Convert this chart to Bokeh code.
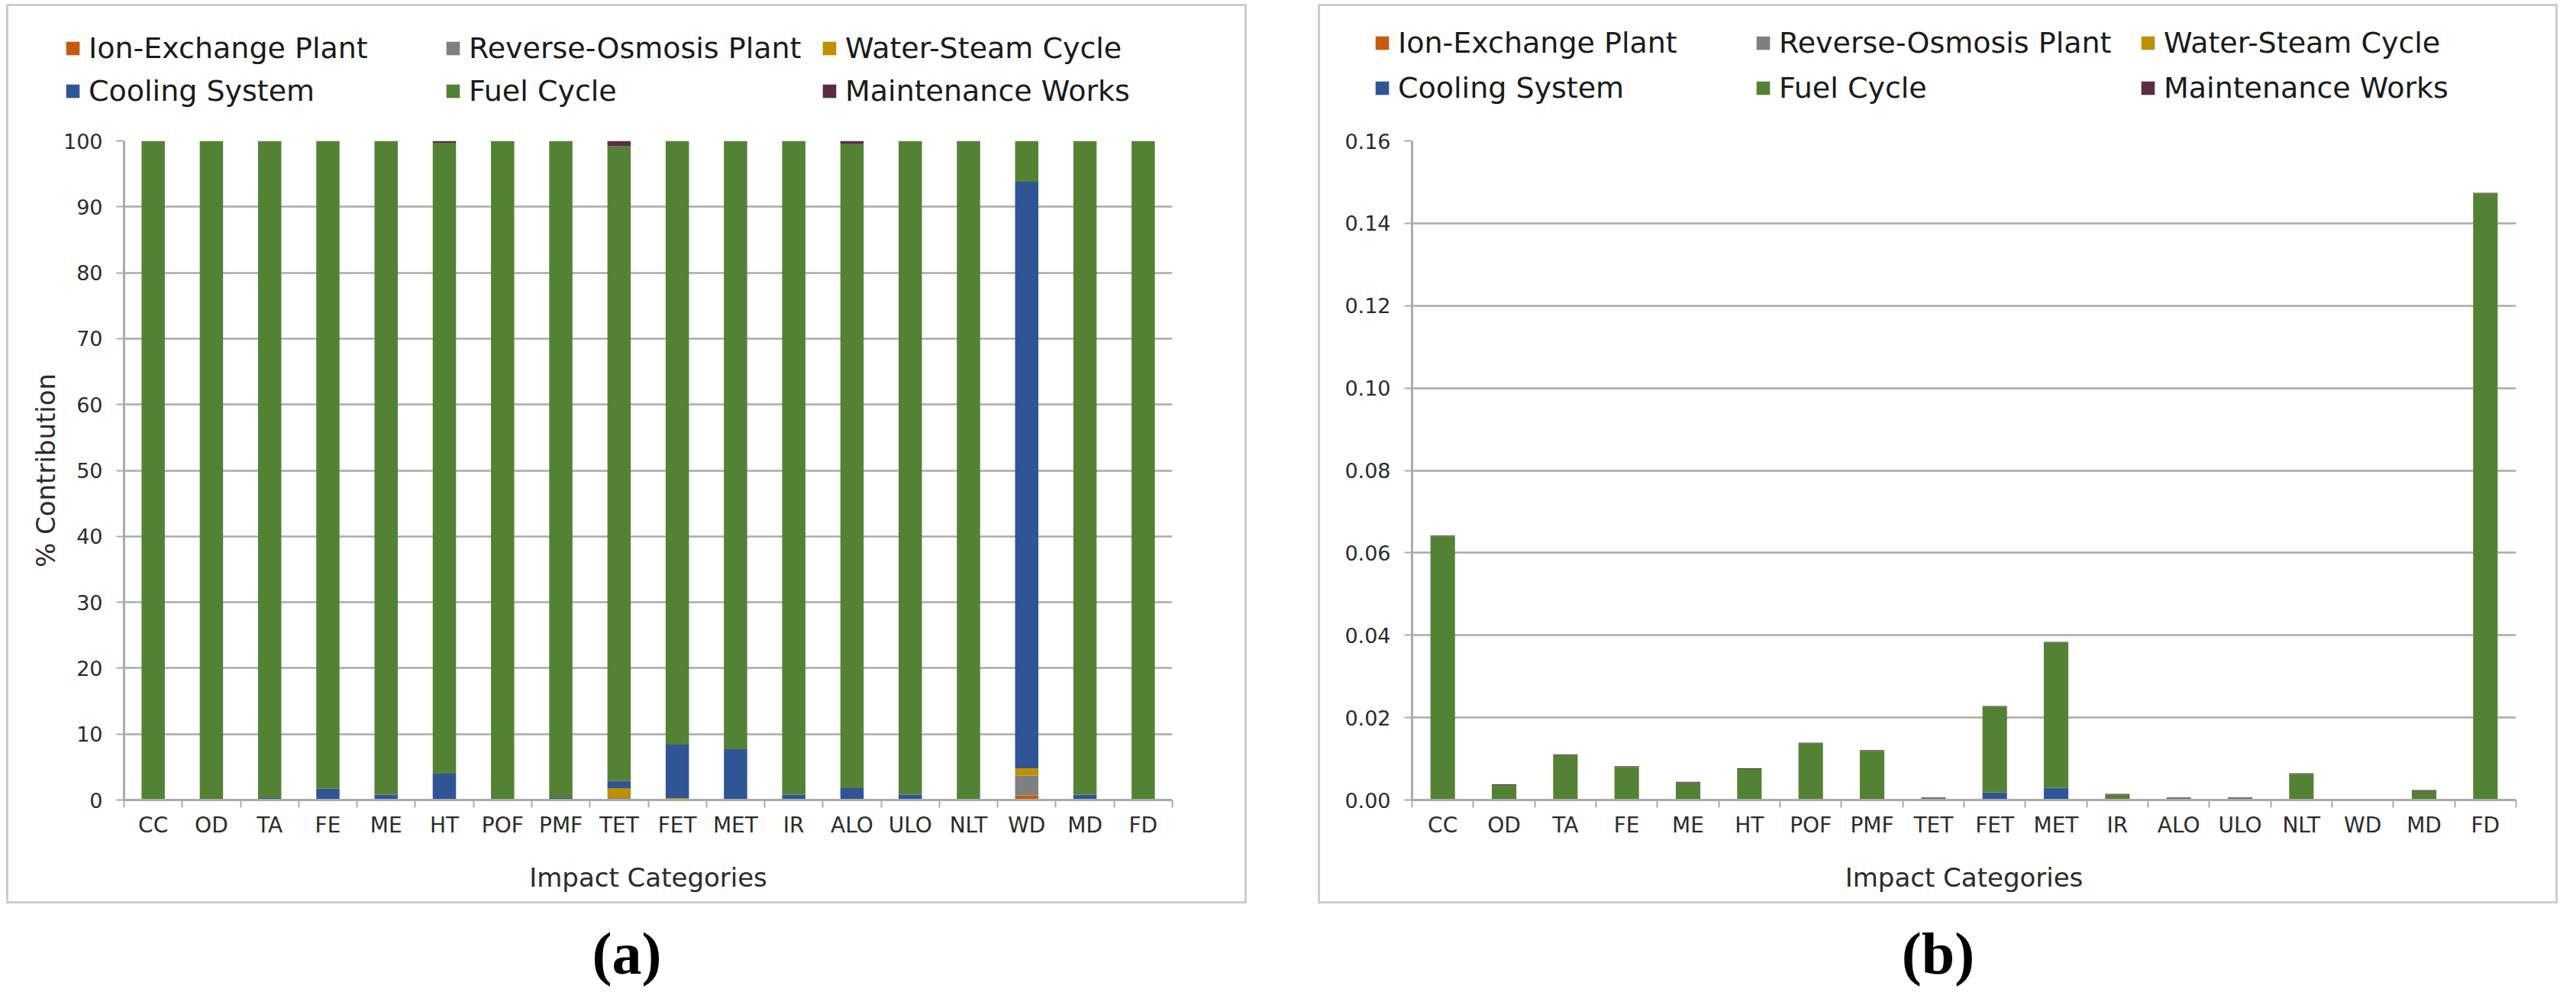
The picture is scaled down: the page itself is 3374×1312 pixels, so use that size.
from bokeh.plotting import figure
from bokeh.models import (Range1d, FixedTicker, NumeralTickFormatter, Legend, LegendItem,
                          ColumnDataSource, Label, Spacer)
from bokeh.layouts import row, column
from bokeh.embed import file_html
from bokeh.resources import INLINE

categories = ["CC", "OD", "TA", "FE", "ME", "HT", "POF", "PMF", "TET", "FET",
              "MET", "IR", "ALO", "ULO", "NLT", "WD", "MD", "FD"]

series_names = ["Ion-Exchange Plant", "Reverse-Osmosis Plant", "Water-Steam Cycle",
                "Cooling System", "Fuel Cycle", "Maintenance Works"]
series_colors = ["#C55A11", "#7F7F7F", "#BF9000", "#2F5597", "#548235", "#5B2C45"]

# ---- panel (a): % contribution ----
ion_a   = [0, 0, 0, 0, 0, 0, 0, 0, 0, 0, 0, 0, 0, 0, 0, 0.7, 0, 0]
ro_a    = [0, 0, 0, 0, 0, 0, 0, 0, 0.3, 0, 0, 0, 0, 0, 0, 3.0, 0, 0]
wsc_a   = [0, 0, 0, 0, 0, 0, 0, 0, 1.5, 0.3, 0, 0, 0, 0, 0, 1.1, 0, 0]
cool_a  = [0, 0, 0.3, 1.7, 0.8, 4.0, 0, 0.3, 1.1, 8.1, 7.7, 0.8, 1.8, 0.8, 0, 89.0, 0.8, 0]
fuel_a  = [100, 100, 99.7, 98.3, 99.2, 95.7, 100, 99.7, 96.3, 91.6, 92.3, 99.2, 97.7, 99.2, 100, 6.2, 99.2, 100]
maint_a = [0, 0, 0, 0, 0, 0.3, 0, 0, 0.8, 0, 0, 0, 0.5, 0, 0, 0, 0, 0]

# ---- panel (b): absolute values ----
ion_b   = [0] * 18
ro_b    = [0] * 18
wsc_b   = [0] * 18
cool_b  = [0, 0, 0, 0.0001, 0, 0.0003, 0, 0, 0, 0.0018, 0.0029, 0, 0, 0, 0, 0, 0, 0]
fuel_b  = [0.0640, 0.0036, 0.0109, 0.0079, 0.0042, 0.0072, 0.0137, 0.0119, 0.0004, 0.0208,
           0.0353, 0.0013, 0.0004, 0.0004, 0.0063, 0.0, 0.0022, 0.1472]
maint_b = [0.0002, 0.0002, 0.0002, 0.0002, 0.0002, 0.0002, 0.0002, 0.0002, 0.0002, 0.0002,
           0.0002, 0.0002, 0.0002, 0.0002, 0.0002, 0.0, 0.0002, 0.0002]

y_ticks_a = [0, 10, 20, 30, 40, 50, 60, 70, 80, 90, 100]
y_ticks_b = [0, 0.02, 0.04, 0.06, 0.08, 0.10, 0.12, 0.14, 0.16]

GRID = "#ababab"
TXT = "#2b2b2b"
FRAME = "#cdcdcd"
LEG_H = 143

SHADOW_TOP = ("0 -3px 0 0 {c}, -3px 0 0 0 {c}, 3px 0 0 0 {c}, "
              "-3px -3px 0 0 {c}, 3px -3px 0 0 {c}").format(c=FRAME)
SHADOW_BOTTOM = ("0 3px 0 0 {c}, -3px 0 0 0 {c}, 3px 0 0 0 {c}, "
                 "-3px 3px 0 0 {c}, 3px 3px 0 0 {c}").format(c=FRAME)


def make_legend_fig(width, leg_x, leg_y, leg_spacing):
    lf = figure(width=width, height=LEG_H, output_backend="svg", toolbar_location=None,
                x_range=Range1d(0, 1), y_range=Range1d(0, 1),
                x_axis_type=None, y_axis_type=None, min_border=0)
    lf.outline_line_color = None
    lf.grid.grid_line_color = None
    lf.background_fill_color = "white"
    lf.border_fill_color = "white"
    # zero-height proxy bars, only used as legend swatches
    proxies = [lf.vbar(x=[0], top=[0], width=0.01, fill_color=c, line_color=None)
               for c in series_colors]
    for j in range(3):
        leg = Legend(items=[LegendItem(label=series_names[j], renderers=[proxies[j]]),
                            LegendItem(label=series_names[j + 3], renderers=[proxies[j + 3]])],
                     location=(leg_x[j], leg_y), orientation="vertical",
                     spacing=leg_spacing, padding=0, margin=0,
                     border_line_color=None, background_fill_alpha=0,
                     glyph_width=22, glyph_height=22, label_standoff=10,
                     label_text_font="DejaVu Sans", label_text_font_size="38px",
                     label_text_color="#1a1a1a")
        lf.add_layout(leg)
    lf.styles = {"box-shadow": SHADOW_TOP}
    return lf


def make_panel(vals, y_end, y_ticks, y_fmt, y_title, width, height, borders,
               x_title_standoff):
    keys = ["s%d" % i for i in range(6)]
    data = {"x": [i + 0.5 for i in range(len(categories))]}
    for k, v in zip(keys, vals):
        data[k] = v
    src = ColumnDataSource(data)

    p = figure(width=width, height=height, output_backend="svg", toolbar_location=None,
               x_range=Range1d(0, len(categories)), y_range=Range1d(0, y_end),
               min_border_left=borders[0], min_border_right=borders[1],
               min_border_top=borders[2], min_border_bottom=borders[3])
    p.outline_line_color = None
    p.background_fill_color = "white"
    p.border_fill_color = "white"

    p.vbar_stack(keys, x="x", width=0.4, source=src,
                 fill_color=series_colors, line_color=None)

    # x axis: labels at category centres, ticks at category boundaries
    xa = p.xaxis[0]
    xa.ticker = FixedTicker(ticks=data["x"], minor_ticks=list(range(len(categories) + 1)))
    xa.major_label_overrides = {c: n for c, n in zip(data["x"], categories)}
    xa.major_tick_out = 0
    xa.major_tick_in = 0
    xa.minor_tick_out = 10
    xa.minor_tick_in = 0
    xa.minor_tick_line_color = GRID
    xa.minor_tick_line_width = 2
    xa.axis_line_color = GRID
    xa.axis_line_width = 3
    xa.major_label_text_font = "DejaVu Sans"
    xa.major_label_text_font_size = "28px"
    xa.major_label_text_color = TXT
    xa.major_label_standoff = 6
    xa.axis_label = "Impact Categories"
    xa.axis_label_text_font = "DejaVu Sans"
    xa.axis_label_text_font_size = "34px"
    xa.axis_label_text_font_style = "normal"
    xa.axis_label_text_color = TXT
    xa.axis_label_standoff = x_title_standoff

    ya = p.yaxis[0]
    ya.ticker = FixedTicker(ticks=y_ticks)
    if y_fmt:
        ya.formatter = NumeralTickFormatter(format=y_fmt)
    ya.major_tick_out = 10
    ya.major_tick_in = 0
    ya.minor_tick_out = 0
    ya.minor_tick_in = 0
    ya.major_tick_line_color = GRID
    ya.major_tick_line_width = 2
    ya.axis_line_color = GRID
    ya.axis_line_width = 3
    ya.major_label_text_font = "DejaVu Sans"
    ya.major_label_text_font_size = "27px"
    ya.major_label_text_color = TXT
    ya.major_label_standoff = 18
    if y_title:
        ya.axis_label = y_title
        ya.axis_label_text_font = "DejaVu Sans"
        ya.axis_label_text_font_size = "34px"
        ya.axis_label_text_font_style = "normal"
        ya.axis_label_text_color = TXT
        ya.axis_label_standoff = 0

    p.xgrid.grid_line_color = None
    p.ygrid.grid_line_color = GRID
    p.ygrid.grid_line_width = 2.5
    p.styles = {"box-shadow": SHADOW_BOTTOM}
    return p


def make_caption(text, width, height):
    c = figure(width=width, height=height, output_backend="svg", toolbar_location=None,
               x_range=Range1d(0, 1), y_range=Range1d(0, 1),
               x_axis_type=None, y_axis_type=None, min_border=0)
    c.outline_line_color = None
    c.grid.grid_line_color = None
    c.background_fill_color = None
    c.border_fill_color = None
    c.add_layout(Label(x=width / 2, y=48, x_units="screen", y_units="screen", text=text,
                       text_align="center", text_baseline="middle",
                       text_font="Liberation Serif", text_font_style="bold",
                       text_font_size="78px", text_color="black"))
    return c


PANEL_H = 1172 - LEG_H

la = make_legend_fig(1619, (73, 571, 1064), 10, 12)
pa = make_panel([ion_a, ro_a, wsc_a, cool_a, fuel_a, maint_a], 100, y_ticks_a, None,
                "% Contribution", 1619, PANEL_H, (151, 95, 33, 133), 29)
lb = make_legend_fig(1618, (70, 569, 1073), 14, 15)
pb = make_panel([ion_b, ro_b, wsc_b, cool_b, fuel_b, maint_b], 0.16, y_ticks_b, "0.00",
                None, 1618, PANEL_H, (120, 52, 33, 133), 29)

ca = make_caption("(a)", 1619, 116)
cb = make_caption("(b)", 1618, 116)

layout = column(
    Spacer(height=8),
    row(Spacer(width=11), la, Spacer(width=99), lb),
    row(Spacer(width=11), pa, Spacer(width=99), pb),
    row(Spacer(width=11), ca, Spacer(width=99), cb),
)

open("out.html", "w").write(file_html(layout, INLINE))
